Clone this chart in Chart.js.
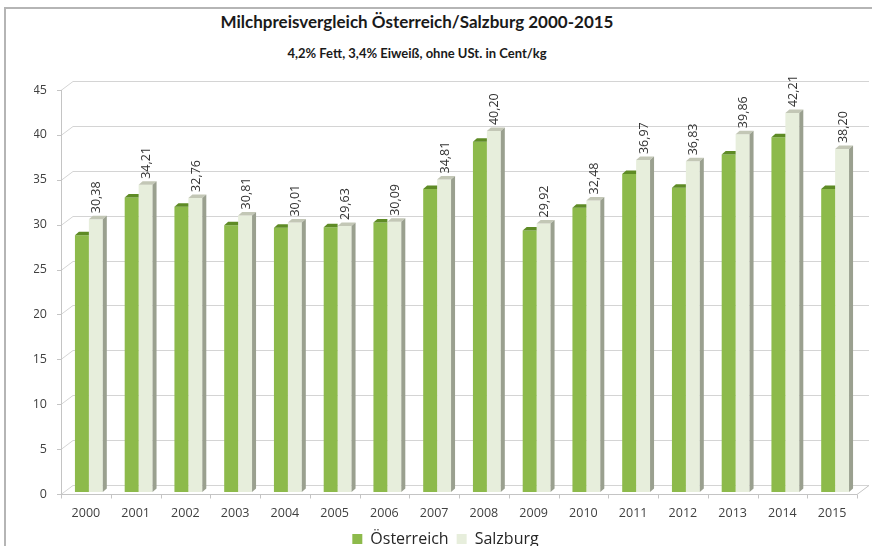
<!DOCTYPE html>
<html>
<head>
<meta charset="utf-8">
<title>Milchpreisvergleich</title>
<script src="https://cdn.jsdelivr.net/npm/chart.js@4.4.1/dist/chart.umd.min.js"></script>
<style>
  html, body { margin: 0; padding: 0; background: #fff; overflow: hidden; }
  body { width: 872px; height: 546px; position: relative; }
  #frame {
    position: absolute; left: 4px; top: 7px; width: 2000px; height: 2000px;
    border-left: 2px solid #b5b5b5; border-top: 2px solid #b5b5b5;
  }
  .head { position: absolute; left: 0; width: 834px; text-align: center; color: #1a1a1a; }
  #title { top: 11px; font: bold 17px Lato, sans-serif; }
  #subtitle { top: 45px; font: bold 13px Lato, sans-serif; }
  canvas { position: absolute; left: 0; top: 0; }
</style>
</head>
<body>
<div id="frame"></div>
<div class="head" id="title">Milchpreisvergleich Österreich/Salzburg 2000-2015</div>
<div class="head" id="subtitle">4,2% Fett, 3,4% Eiweiß, ohne USt. in Cent/kg</div>
<canvas id="chart" width="872" height="557"></canvas>
<script>
/* --- Data --- */
var YEARS = ["2000", "2001", "2002", "2003", "2004", "2005", "2006", "2007",
             "2008", "2009", "2010", "2011", "2012", "2013", "2014", "2015"];
var OESTERREICH = [28.60, 32.80, 31.76, 29.70, 29.42, 29.48, 30.02, 33.74,
                   39.01, 29.14, 31.67, 35.41, 33.90, 37.60, 39.51, 33.76];
var SALZBURG = [30.38, 34.21, 32.76, 30.81, 30.01, 29.63, 30.09, 34.81,
                40.20, 29.92, 32.48, 36.97, 36.83, 39.86, 42.21, 38.20];
var Y_MIN = 0, Y_MAX = 45, Y_STEP = 5;

/* --- Style --- */
var GREEN = "#8dba4b", GREEN_TOP = "#5e8b25";
var PALE = "#e7eedc", PALE_TOP = "#c3c7b6", PALE_SIDE = "#9aa08f";
var GRID = "#d4d4d4", AXIS = "#c4c4c4", TEXT = "#404040";
var WALL_DX = 12, WALL_DY = 9;     // depth of the back wall
var BAR_DX = 4, BAR_DY = 3.5;      // depth of a bar
var SHIFT_X = 3, SHIFT_Y = -2;     // bars stand a little inside the floor

function fmt(v) { return v.toFixed(2).replace(".", ","); }

/* back wall, floor and fake 3d faces */
var pseudo3d = {
  id: "pseudo3d",
  beforeDatasetsDraw: function (chart) {
    var ctx = chart.ctx, a = chart.chartArea;
    var ys = chart.scales.y, xs = chart.scales.x;
    ctx.save();
    ctx.lineWidth = 1;
    ctx.strokeStyle = GRID;
    ys.ticks.forEach(function (t) {
      var y = Math.round(ys.getPixelForValue(t.value)) + 0.5;
      ctx.beginPath();
      ctx.moveTo(a.left, y);
      ctx.lineTo(a.left + WALL_DX, y - WALL_DY);
      ctx.lineTo(a.right + WALL_DX, y - WALL_DY);
      ctx.stroke();
    });
    var y0 = Math.round(ys.getPixelForValue(0)) + 0.5;
    ctx.strokeStyle = AXIS;
    ctx.beginPath();
    // front y axis + its ticks
    ctx.moveTo(Math.round(a.left) + 0.5, Math.round(ys.getPixelForValue(Y_MAX)));
    ctx.lineTo(Math.round(a.left) + 0.5, y0);
    ys.ticks.forEach(function (t) {
      var y = Math.round(ys.getPixelForValue(t.value)) + 0.5;
      ctx.moveTo(a.left - 4, y);
      ctx.lineTo(a.left, y);
    });
    // front floor edge + category ticks
    ctx.moveTo(a.left, y0);
    ctx.lineTo(a.right, y0);
    ctx.lineTo(a.right + WALL_DX, y0 - WALL_DY);
    var half = (xs.getPixelForValue(1) - xs.getPixelForValue(0)) / 2;
    for (var i = 0; i <= YEARS.length; i++) {
      var x = Math.round(xs.getPixelForValue(i) - half) + 0.5;
      ctx.moveTo(x, y0);
      ctx.lineTo(x, y0 + 4);
    }
    ctx.stroke();
    ctx.restore();

    ctx.save();
    ctx.translate(SHIFT_X, SHIFT_Y);
  },
  afterDatasetsDraw: function (chart) {
    var ctx = chart.ctx;
    var metaA = chart.getDatasetMeta(0), metaS = chart.getDatasetMeta(1);

    metaA.data.forEach(function (bar) {
      var p = bar.getProps(["x", "y", "width"], true);
      var l = p.x - p.width / 2, r = p.x + p.width / 2;
      ctx.fillStyle = GREEN_TOP;
      ctx.beginPath();
      ctx.moveTo(l, p.y);
      ctx.lineTo(l + BAR_DX, p.y - BAR_DY);
      ctx.lineTo(r, p.y - BAR_DY);
      ctx.lineTo(r, p.y);
      ctx.closePath();
      ctx.fill();
    });

    metaS.data.forEach(function (bar, i) {
      var p = bar.getProps(["x", "y", "base", "width"], true);
      var l = p.x - p.width / 2, r = p.x + p.width / 2;
      ctx.fillStyle = PALE_TOP;
      ctx.beginPath();
      ctx.moveTo(l, p.y);
      ctx.lineTo(l + BAR_DX, p.y - BAR_DY);
      ctx.lineTo(r + BAR_DX, p.y - BAR_DY);
      ctx.lineTo(r, p.y);
      ctx.closePath();
      ctx.fill();
      ctx.fillStyle = PALE_SIDE;
      ctx.beginPath();
      ctx.moveTo(r, p.y);
      ctx.lineTo(r + BAR_DX, p.y - BAR_DY);
      ctx.lineTo(r + BAR_DX, p.base - BAR_DY);
      ctx.lineTo(r, p.base);
      ctx.closePath();
      ctx.fill();

      // value label, rotated
      ctx.save();
      ctx.translate(p.x + 1, p.y - BAR_DY - 2.5);
      ctx.rotate(-Math.PI / 2);
      ctx.font = "12.5px 'Open Sans'";
      ctx.fillStyle = "#333";
      ctx.textAlign = "left";
      ctx.textBaseline = "middle";
      ctx.fillText(fmt(SALZBURG[i]), 0, 0);
      ctx.restore();
    });

    ctx.restore();
  }
};

new Chart(document.getElementById("chart"), {
  type: "bar",
  data: {
    labels: YEARS,
    datasets: [
      { label: "Österreich", data: OESTERREICH, backgroundColor: GREEN, borderWidth: 0 },
      { label: "Salzburg", data: SALZBURG, backgroundColor: PALE, borderWidth: 0 }
    ]
  },
  options: {
    responsive: false,
    animation: false,
    layout: { padding: { left: 34, right: 15, top: 90, bottom: 0 } },
    datasets: { bar: { categoryPercentage: 0.56, barPercentage: 1 } },
    plugins: {
      legend: {
        position: "bottom",
        labels: {
          boxWidth: 10,
          boxHeight: 10,
          padding: 8,
          color: "#262626",
          font: { family: "'Open Sans'", size: 16 }
        }
      },
      tooltip: { enabled: false }
    },
    scales: {
      x: {
        grid: { display: false, drawTicks: false },
        border: { display: false },
        ticks: {
          padding: 12,
          maxRotation: 0,
          color: TEXT,
          font: { family: "'Open Sans'", size: 12.5 }
        },
        afterFit: function (s) { s.height = 29; }
      },
      y: {
        min: Y_MIN,
        max: Y_MAX,
        grid: { display: false, drawTicks: false },
        border: { display: false },
        ticks: {
          stepSize: Y_STEP,
          padding: 14,
          color: TEXT,
          font: { family: "'Open Sans'", size: 12.5 }
        },
        afterFit: function (s) { s.width = 27; }
      }
    }
  },
  plugins: [pseudo3d]
});
</script>
</body>
</html>
